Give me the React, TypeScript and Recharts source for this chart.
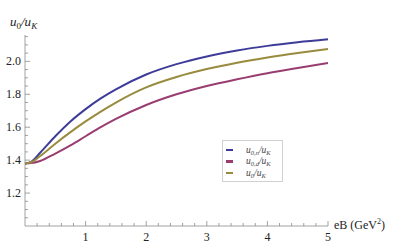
import React from 'react';
import { LineChart, Line, XAxis, YAxis, Legend } from 'recharts';

// eB in GeV^2
const eB = [0, 0.1, 0.25, 0.5, 0.75, 1, 1.25, 1.5, 2, 2.5, 3, 3.5, 4, 4.5, 5];
const ratioN = [1.38, 1.39, 1.445, 1.545, 1.635, 1.71, 1.775, 1.83, 1.92, 1.983, 2.03, 2.066, 2.094, 2.116, 2.134];
const ratioD = [1.38, 1.382, 1.395, 1.44, 1.49, 1.545, 1.6, 1.65, 1.735, 1.8, 1.85, 1.891, 1.928, 1.96, 1.99];
const ratio0 = [1.38, 1.387, 1.425, 1.5, 1.57, 1.635, 1.695, 1.75, 1.842, 1.905, 1.953, 1.992, 2.024, 2.051, 2.075];

const xTicks = [0.2, 0.4, 0.6, 0.8, 1, 1.2, 1.4, 1.6, 1.8, 2, 2.2, 2.4, 2.6, 2.8, 3, 3.2, 3.4, 3.6, 3.8, 4, 4.2, 4.4, 4.6, 4.8, 5];
const xLabels = [1, 2, 3, 4, 5];
const yTicks = [1.05, 1.1, 1.15, 1.2, 1.25, 1.3, 1.35, 1.4, 1.45, 1.5, 1.55, 1.6, 1.65, 1.7, 1.75, 1.8, 1.85, 1.9, 1.95, 2.0, 2.05, 2.1, 2.15];
const yLabels = [1.2, 1.4, 1.6, 1.8, 2.0];
const legendOrder = ['n', 'd', 'all'];

const data = eB.map((x, i) => ({ x, n: ratioN[i], d: ratioD[i], all: ratio0[i] }));

const FONT = '"Liberation Serif", "DejaVu Serif", serif';
const AXIS = '#8a8a8a';

const isLabel = (list: number[], v: number) => list.some(l => Math.abs(l - v) < 1e-6);

const XTick = ({ x, y, payload }: any) => {
  const major = isLabel(xLabels, payload.value);
  return (
    <g>
      <line x1={x} x2={x} y1={y} y2={y - (major ? 5 : 3)} stroke={AXIS} strokeWidth={0.8} />
      {major && (
        <text x={x} y={y + 15} textAnchor="middle" fontFamily={FONT} fontSize={12} fill="#222">
          {payload.value}
        </text>
      )}
    </g>
  );
};

const YTick = ({ x, y, payload }: any) => {
  const major = isLabel(yLabels, payload.value);
  return (
    <g>
      <line x1={x} x2={x + (major ? 5 : 3)} y1={y} y2={y} stroke={AXIS} strokeWidth={0.8} />
      {major && (
        <text x={x - 4} y={y + 4} textAnchor="end" fontFamily={FONT} fontSize={12} fill="#222">
          {payload.value.toFixed(1)}
        </text>
      )}
    </g>
  );
};

const subStyle = { fontSize: 6.5, verticalAlign: '-2px', lineHeight: 0 };

const legendLabel = (key: string) => {
  const sub = key === 'n' ? '0,n' : key === 'd' ? '0,d' : '0';
  return (
    <span style={{ fontStyle: 'italic', lineHeight: '10px' }}>
      u<span style={subStyle}>{sub}</span>/u<span style={subStyle}>K</span>
    </span>
  );
};

const renderLegend = ({ payload }: any) => {
  const items = legendOrder.map(k => (payload || []).find((p: any) => p.dataKey === k)).filter(Boolean);
  return (
    <div style={{ border: '1px solid #d0d0d0', background: '#fff', padding: '3px 3px 2px', fontFamily: FONT, fontSize: 9.5, color: '#444', width: 53, lineHeight: '10px' }}>
      {items.map((p: any) => (
        <div key={p.dataKey} style={{ display: 'flex', alignItems: 'center', height: 11.5, overflow: 'hidden' }}>
          <span style={{ display: 'inline-block', width: 7, height: 2.5, background: p.color, marginRight: 13 }} />
          {legendLabel(p.dataKey)}
        </div>
      ))}
    </div>
  );
};

export default function App() {
  return (
    <div style={{ position: 'absolute', left: 0, top: 0, width: 400, height: 249, background: '#fff' }}>
      <LineChart width={400} height={249} data={data} margin={{ top: 35, right: 72, bottom: 0, left: 0 }}>
        <XAxis
          dataKey="x"
          type="number"
          domain={[0, 5]}
          ticks={xTicks}
          interval={0}
          height={23}
          tickSize={0}
          tickMargin={0}
          tickLine={false}
          axisLine={{ stroke: AXIS, strokeWidth: 0.8 }}
          tick={<XTick />}
        />
        <YAxis
          type="number"
          domain={[1.0, 2.16]}
          ticks={yTicks}
          interval={0}
          width={25}
          tickSize={0}
          tickMargin={0}
          tickLine={false}
          axisLine={{ stroke: AXIS, strokeWidth: 0.8 }}
          tick={<YTick />}
        />
        <Legend
          layout="horizontal"
          verticalAlign="middle"
          align="center"
          content={renderLegend}
          wrapperStyle={{ left: 222, top: 140, width: 60 }}
        />
        <Line dataKey="n" type="monotone" stroke="#3d3d99" strokeWidth={2} dot={false} isAnimationActive={false} />
        <Line dataKey="d" type="monotone" stroke="#993d71" strokeWidth={2} dot={false} isAnimationActive={false} />
        <Line dataKey="all" type="monotone" stroke="#998b3d" strokeWidth={2} dot={false} isAnimationActive={false} />
        <text x={10} y={26} fontFamily={FONT} fontSize={13} fontStyle="italic" fill="#222">
          u<tspan fontSize={9} dy={3} fontStyle="normal">0</tspan>
          <tspan dy={-3}>/u</tspan>
          <tspan fontSize={9} dy={3}>K</tspan>
        </text>
        <text x={334} y={229} fontFamily={FONT} fontSize={12} fill="#222">
          eB (GeV<tspan fontSize={8} dy={-5}>2</tspan><tspan dy={5}>)</tspan>
        </text>
      </LineChart>
    </div>
  );
}
